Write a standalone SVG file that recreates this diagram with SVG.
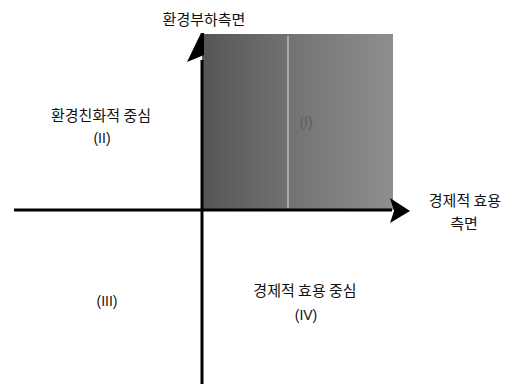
<svg xmlns="http://www.w3.org/2000/svg" width="517" height="385" viewBox="0 0 517 385">
<style>
.t{font-family:"Noto Sans CJK KR","Noto Sans",sans-serif;font-size:15px;fill:#111;text-anchor:middle}
.n{font-family:"Liberation Sans","Noto Sans",sans-serif;font-size:14px;fill:#111;text-anchor:middle}
.ax{stroke:#000;stroke-width:3;fill:none}
</style>
<defs>
<linearGradient id="shade" x1="0" y1="0" x2="1" y2="0">
<stop offset="0" stop-color="#555"/>
<stop offset="0.45" stop-color="#727272"/>
<stop offset="1" stop-color="#8e8e8e"/>
</linearGradient>
</defs>
<rect width="517" height="385" fill="#fff"/>
<g id="quadrant-I">
<rect x="202" y="34" width="191" height="176" fill="url(#shade)"/>
<line x1="288" y1="36" x2="288" y2="208" stroke="#bdbdbd" stroke-width="1.5"/>
<text class="n" x="306" y="127" style="fill:#5e5e5e">(I)</text>
</g>
<g id="connectors">
<line class="ax" x1="202" y1="60" x2="202" y2="384"/>
<polygon points="201,33 187,62 204,55 204,33" fill="#000"/>
<line class="ax" x1="14" y1="210" x2="392" y2="210"/>
<polygon points="410,211 390,198 394,211 390,223" fill="#000"/>
</g>
<g id="y-axis-label"><text class="t" x="204" y="25">환경부하측면</text></g>
<g id="x-axis-label">
<text class="t" x="465" y="206">경제적 효용</text>
<text class="t" x="464" y="229">측면</text>
</g>
<g id="quadrant-II">
<text class="t" x="101" y="121">환경친화적 중심</text>
<text class="n" x="102" y="143">(II)</text>
</g>
<g id="quadrant-III">
<text class="n" x="107" y="306">(III)</text>
</g>
<g id="quadrant-IV">
<text class="t" x="305" y="296">경제적 효용 중심</text>
<text class="n" x="306" y="320">(IV)</text>
</g>
</svg>
